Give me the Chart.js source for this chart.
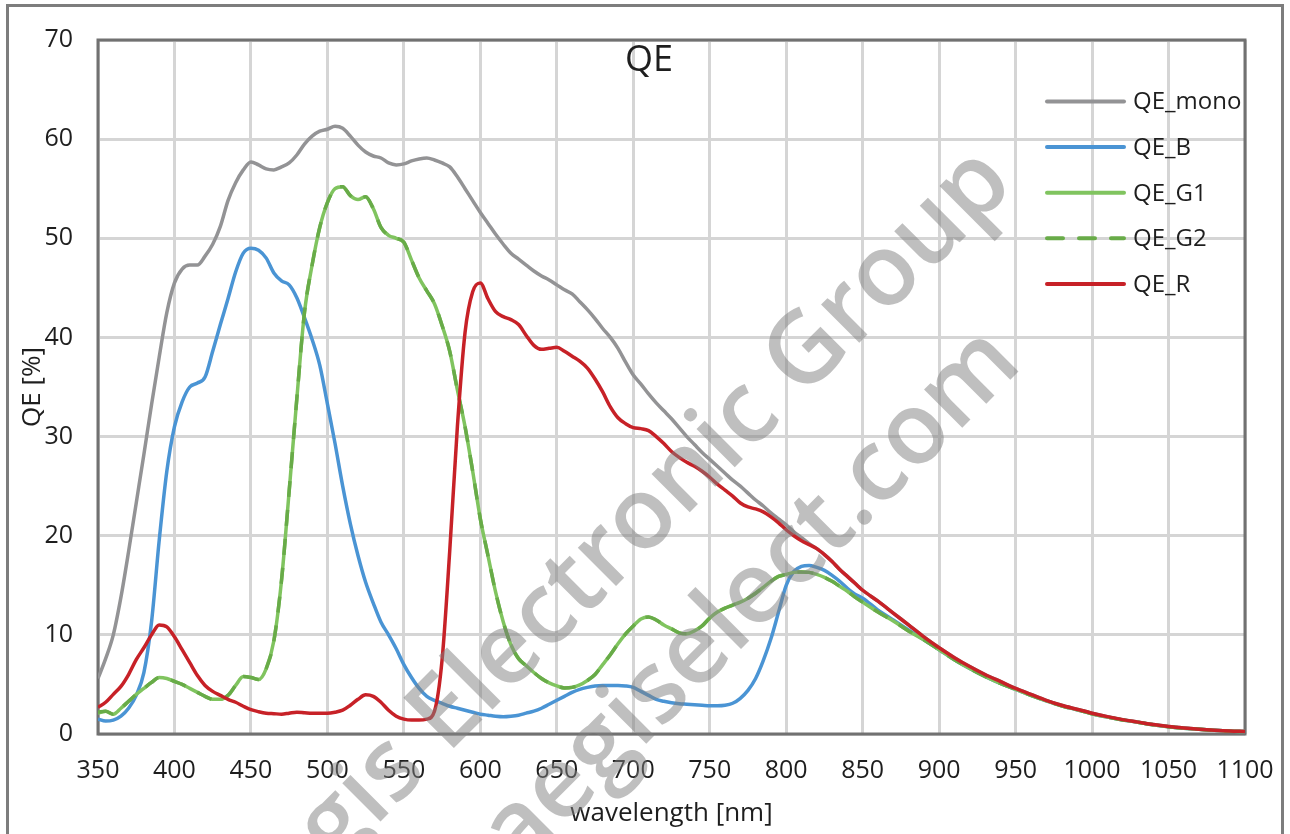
<!DOCTYPE html>
<html>
<head>
<meta charset="utf-8">
<script src="https://cdn.jsdelivr.net/npm/chart.js"></script>
<style>
  html, body { margin: 0; padding: 0; background: #fff; }
</style>
</head>
<body>
<canvas id="qeChart" width="1290" height="834"></canvas>
<script>
// wavelength in nm (shared x values)
var wavelength = [
  350, 355, 360, 365, 370, 375, 380, 385, 390, 395,
  400, 405, 410, 415, 420, 425, 430, 435, 440, 445,
  450, 455, 460, 465, 470, 475, 480, 485, 490, 495,
  500, 505, 510, 515, 520, 525, 530, 535, 540, 545,
  550, 555, 560, 565, 570, 575, 580, 585, 590, 595,
  600, 605, 610, 615, 620, 625, 630, 635, 640, 645,
  650, 655, 660, 665, 670, 675, 680, 685, 690, 695,
  700, 705, 710, 715, 720, 725, 730, 735, 740, 745,
  750, 755, 760, 765, 770, 775, 780, 785, 790, 795,
  800, 805, 810, 815, 820, 825, 830, 835, 840, 845,
  850, 860, 870, 880, 890, 900, 910, 920, 930, 940,
  950, 960, 970, 980, 990, 1000, 1010, 1020, 1030, 1040,
  1050, 1060, 1070, 1080, 1090, 1100
];

var qeMono = [
  5.6, 7.6, 10.0, 13.8, 18.4, 23.3, 28.2, 33.2, 38.0, 42.5,
  45.5, 46.9, 47.3, 47.3, 48.2, 49.4, 51.2, 53.8, 55.6, 56.9,
  57.7, 57.4, 57.0, 56.9, 57.2, 57.6, 58.4, 59.5, 60.3, 60.8,
  61.0, 61.3, 61.1, 60.3, 59.4, 58.7, 58.3, 58.1, 57.6, 57.4,
  57.5, 57.8, 58.0, 58.1, 57.9, 57.6, 57.2, 56.2, 55.0, 53.8,
  52.6, 51.5, 50.4, 49.4, 48.5, 47.9, 47.3, 46.7, 46.2, 45.8,
  45.3, 44.8, 44.4, 43.6, 42.8, 41.9, 40.9, 40.0, 38.9, 37.5,
  36.2, 35.3, 34.3, 33.4, 32.6, 31.8, 30.9, 30.0, 29.2, 28.4,
  27.7, 27.0, 26.3, 25.6, 25.0, 24.3, 23.6, 23.0, 22.3, 21.7,
  21.1, 20.4, 19.8, 19.2, 18.7, 18.1, 17.4, 16.6, 15.9, 15.2,
  14.5, 13.4, 12.2, 11.0, 9.8, 8.7, 7.7, 6.8, 6.0, 5.3,
  4.6, 4.0, 3.4, 2.9, 2.5, 2.1, 1.75, 1.45, 1.2, 0.95,
  0.75, 0.6, 0.48, 0.38, 0.3, 0.25
];

var qeB = [
  1.5, 1.3, 1.4, 1.8, 2.6, 3.9, 6.2, 11.3, 19.5, 26.5,
  31.0, 33.5, 35.0, 35.4, 36.0, 38.6, 41.3, 43.9, 46.6, 48.5,
  49.0, 48.8, 48.0, 46.5, 45.7, 45.3, 44.0, 42.0, 39.8, 37.2,
  33.3, 29.3, 25.0, 21.2, 18.0, 15.3, 13.2, 11.3, 10.0, 8.6,
  7.0, 5.7, 4.6, 3.8, 3.4, 3.1, 2.8, 2.6, 2.4, 2.2,
  2.0, 1.9, 1.8, 1.75, 1.8, 1.9, 2.1, 2.3, 2.6, 3.0,
  3.4, 3.8, 4.2, 4.5, 4.7, 4.85, 4.9, 4.9, 4.9, 4.85,
  4.7, 4.3, 3.9, 3.5, 3.3, 3.15, 3.05, 3.0, 2.95, 2.9,
  2.85, 2.85, 2.9, 3.1, 3.6, 4.4, 5.6, 7.4, 9.6, 12.3,
  15.0, 16.4, 16.9, 17.0, 16.8, 16.5, 16.0, 15.4, 14.7, 14.1,
  13.7, 12.5, 11.5, 10.5, 9.5, 8.5, 7.5, 6.6, 5.8, 5.1,
  4.5, 3.9, 3.35, 2.85, 2.45, 2.05, 1.7, 1.42, 1.18, 0.93,
  0.74, 0.59, 0.47, 0.37, 0.29, 0.24
];

var qeG1 = [
  2.1, 2.3, 2.0, 2.6, 3.3, 4.0, 4.6, 5.2, 5.7, 5.6,
  5.3, 5.0, 4.6, 4.2, 3.8, 3.5, 3.5, 3.9, 4.9, 5.8,
  5.7, 5.5, 6.6, 9.4, 15.5, 24.5, 33.8, 42.5, 47.3, 51.1,
  53.6, 55.0, 55.2, 54.3, 53.9, 54.2, 53.0, 51.1, 50.3, 50.0,
  49.6, 47.8, 46.0, 44.7, 43.4, 41.2, 38.6, 34.7, 31.0, 26.5,
  21.7, 18.0, 14.3, 11.3, 9.0, 7.6, 6.9, 6.2, 5.6, 5.15,
  4.85, 4.65, 4.7, 4.95, 5.4, 6.0, 7.0, 8.0, 9.1, 10.1,
  10.9, 11.6, 11.8, 11.5, 11.0, 10.6, 10.2, 10.1, 10.4, 10.9,
  11.7, 12.3, 12.7, 13.0, 13.3, 13.7, 14.2, 14.8, 15.4, 15.9,
  16.1, 16.3, 16.35, 16.3, 16.1, 15.8, 15.4, 14.9, 14.4, 13.8,
  13.3, 12.3, 11.4, 10.4, 9.5, 8.5, 7.5, 6.6, 5.8, 5.1,
  4.5, 3.9, 3.35, 2.85, 2.45, 2.05, 1.7, 1.42, 1.18, 0.93,
  0.74, 0.59, 0.47, 0.37, 0.29, 0.24
];

var qeG2 = [
  2.2, 2.3, 2.0, 2.6, 3.3, 4.0, 4.6, 5.2, 5.7, 5.6,
  5.3, 5.0, 4.6, 4.2, 3.8, 3.5, 3.5, 3.9, 4.9, 5.8,
  5.7, 5.5, 6.6, 9.4, 15.5, 24.5, 33.8, 42.5, 47.3, 51.1,
  53.6, 55.0, 55.2, 54.3, 53.9, 54.2, 53.0, 51.1, 50.3, 50.0,
  49.6, 47.8, 46.0, 44.7, 43.4, 41.2, 38.6, 34.7, 31.0, 26.5,
  21.7, 18.0, 14.3, 11.3, 9.0, 7.6, 6.9, 6.2, 5.6, 5.15,
  4.85, 4.65, 4.7, 4.95, 5.4, 6.0, 7.0, 8.0, 9.1, 10.1,
  10.9, 11.6, 11.8, 11.5, 11.0, 10.6, 10.2, 10.1, 10.4, 10.9,
  11.7, 12.3, 12.7, 13.0, 13.3, 13.7, 14.2, 14.8, 15.4, 15.9,
  16.1, 16.3, 16.35, 16.3, 16.1, 15.8, 15.4, 14.9, 14.4, 13.8,
  13.3, 12.3, 11.4, 10.4, 9.5, 8.5, 7.5, 6.6, 5.8, 5.1,
  4.5, 3.9, 3.35, 2.85, 2.45, 2.05, 1.7, 1.42, 1.18, 0.93,
  0.74, 0.59, 0.47, 0.37, 0.29, 0.24
];

var qeR = [
  2.7, 3.2, 4.0, 4.8, 6.0, 7.5, 8.7, 10.0, 11.0, 10.8,
  9.8, 8.5, 7.2, 5.9, 4.9, 4.3, 3.9, 3.5, 3.2, 2.8,
  2.45, 2.25, 2.1, 2.05, 2.0, 2.1, 2.2, 2.15, 2.1, 2.1,
  2.1, 2.2, 2.4, 2.9, 3.5, 3.95, 3.8, 3.2, 2.4, 1.8,
  1.5, 1.4, 1.4, 1.5, 2.3, 7.5, 18.5, 31.0, 40.5, 44.6,
  45.5, 43.9, 42.6, 42.1, 41.8, 41.3, 40.2, 39.2, 38.8, 38.9,
  39.0, 38.6, 38.1, 37.6, 36.9, 35.8, 34.5, 33.0, 31.9, 31.3,
  30.9, 30.8, 30.6, 30.0, 29.3, 28.5, 27.9, 27.4, 27.0, 26.5,
  25.9, 25.2, 24.6, 24.0, 23.3, 22.9, 22.7, 22.4, 21.9, 21.3,
  20.6, 20.0, 19.5, 19.1, 18.7, 18.1, 17.4, 16.6, 15.9, 15.2,
  14.5, 13.4, 12.2, 11.0, 9.8, 8.7, 7.7, 6.8, 6.0, 5.3,
  4.6, 4.0, 3.4, 2.9, 2.5, 2.1, 1.75, 1.45, 1.2, 0.95,
  0.75, 0.6, 0.48, 0.38, 0.3, 0.25
];

var seriesNames = ['QE_mono', 'QE_B', 'QE_G1', 'QE_G2', 'QE_R'];
var seriesValues = [qeMono, qeB, qeG1, qeG2, qeR];
var seriesColors = ['#939395', '#4a94d4', '#80c45f', '#68ab48', '#c72127'];
var seriesDash = [[], [], [], [16, 13], []];

var xTicks = [350, 400, 450, 500, 550, 600, 650, 700, 750, 800, 850, 900, 950, 1000, 1050, 1100];
var yTicks = [0, 10, 20, 30, 40, 50, 60, 70];

var FONT = '"Open Sans", "Liberation Sans", sans-serif';
var TEXT = '#1e1e1e';

function points(vals) {
  return wavelength.map(function (w, i) { return { x: w, y: vals[i] }; });
}

var datasets = seriesNames.map(function (name, i) {
  return {
    label: name,
    data: points(seriesValues[i]),
    borderColor: seriesColors[i],
    borderWidth: 3.5,
    borderDash: seriesDash[i],
    pointRadius: 0,
    fill: false,
    cubicInterpolationMode: 'monotone',
    order: seriesNames.length - i
  };
});

// frame, title, inline legend and watermark
var decor = {
  id: 'decor',
  beforeDatasetsDraw: function (chart) {
    var ctx = chart.ctx, a = chart.chartArea;
    ctx.save();
    ctx.strokeStyle = '#717171';
    ctx.lineWidth = 3;
    ctx.strokeRect(a.left, a.top, a.right - a.left, a.bottom - a.top);
    ctx.restore();
  },
  afterDraw: function (chart) {
    var ctx = chart.ctx;
    ctx.save();
    // outer frame
    ctx.strokeStyle = '#7d7d7d';
    ctx.lineWidth = 3;
    ctx.strokeRect(7.5, 5.5, 1275, 900);

    // title
    ctx.fillStyle = TEXT;
    ctx.font = '36px ' + FONT;
    ctx.textAlign = 'center';
    ctx.textBaseline = 'alphabetic';
    ctx.fillText('QE', 649, 71);

    // legend
    ctx.font = '24px ' + FONT;
    ctx.textAlign = 'left';
    ctx.textBaseline = 'middle';
    seriesNames.forEach(function (name, i) {
      var y = 101.5 + i * 45.6;
      ctx.strokeStyle = seriesColors[i];
      ctx.lineWidth = 4;
      ctx.lineCap = 'round';
      ctx.setLineDash(seriesDash[i].length ? [16, 16] : []);
      ctx.beginPath();
      ctx.moveTo(1047, y);
      ctx.lineTo(1124, y);
      ctx.stroke();
      ctx.setLineDash([]);
      ctx.fillStyle = TEXT;
      ctx.fillText(name, 1133, y + 1);
    });

    // watermark
    ctx.fillStyle = 'rgba(128,128,128,0.5)';
    ctx.font = '600 100px ' + FONT;
    ctx.textAlign = 'right';
    ctx.textBaseline = 'alphabetic';
    var ang = -45 * Math.PI / 180;
    ctx.save();
    ctx.translate(1016, 186);
    ctx.rotate(ang);
    ctx.fillText('aegis Electronic Group', 0, 0);
    ctx.restore();
    ctx.save();
    ctx.translate(1024, 366);
    ctx.rotate(ang);
    ctx.fillText('aegiselect.com', 0, 0);
    ctx.restore();
    ctx.restore();
  }
};

new Chart(document.getElementById('qeChart'), {
  type: 'line',
  data: { datasets: datasets },
  plugins: [decor],
  options: {
    responsive: false,
    animation: false,
    layout: { padding: { left: 0, top: 40, right: 45, bottom: 0 } },
    plugins: {
      legend: { display: false },
      tooltip: { enabled: false },
      title: { display: false }
    },
    scales: {
      x: {
        type: 'linear',
        min: 350,
        max: 1100,
        afterBuildTicks: function (s) { s.ticks = xTicks.map(function (v) { return { value: v }; }); },
        afterFit: function (s) { s.height = 100; s.paddingLeft = 0; s.paddingRight = 0; },
        ticks: {
          color: TEXT, font: { family: FONT, size: 25 }, padding: 22, maxRotation: 0, autoSkip: false,
          callback: function (v) { return String(v); }
        },
        grid: { color: '#d5d5d5', lineWidth: 3, drawTicks: false },
        border: { display: false },
        title: { display: true, text: 'wavelength [nm]', color: TEXT, font: { family: FONT, size: 26 }, padding: { top: 0, bottom: 5 } }
      },
      y: {
        min: 0,
        max: 70,
        afterBuildTicks: function (s) { s.ticks = yTicks.map(function (v) { return { value: v }; }); },
        afterFit: function (s) { s.width = 98; s.paddingTop = 0; s.paddingBottom = 0; },
        ticks: { color: TEXT, font: { family: FONT, size: 25 }, padding: 25 },
        grid: { color: '#d5d5d5', lineWidth: 3, drawTicks: false },
        border: { display: false },
        title: { display: true, text: 'QE [%]', color: TEXT, font: { family: FONT, size: 26 }, padding: { top: 17, bottom: 0 } }
      }
    }
  }
});
</script>
</body>
</html>
